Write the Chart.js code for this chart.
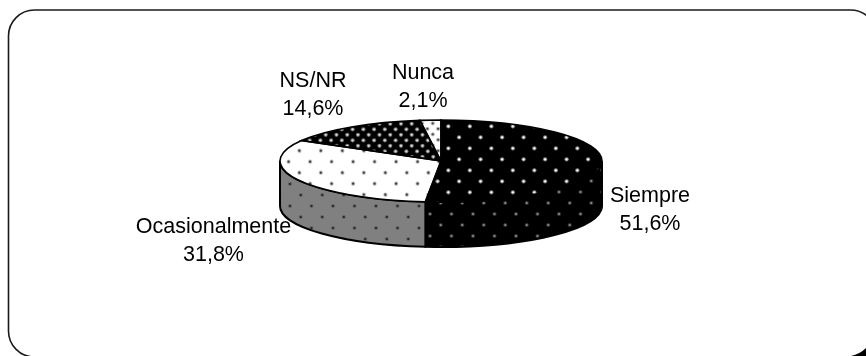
<!DOCTYPE html>
<html>
<head>
<meta charset="utf-8">
<title>Frecuencia</title>
<script src="https://cdn.jsdelivr.net/npm/chart.js@4"></script>
<style>
  html, body { margin: 0; padding: 0; background: #fff; overflow: hidden; }
  canvas { display: block; }
</style>
</head>
<body>
<canvas id="chartFrecuencia" width="866" height="356"></canvas>
<script>
const categories = ["Siempre", "Ocasionalmente", "NS/NR", "Nunca"];
const percentages = [51.6, 31.8, 14.6, 2.1];

// Pie geometry: the disc is squashed vertically and sits on a wall
const centerX = 441;
const centerY = 161;
const radiusX = 161;
const radiusY = 41;
const wallDepth = 45;
const squash = radiusY / radiusX;

// Label centre and first baseline for each category
const labelSpots = [
  [650, 202],
  [213.5, 233],
  [313, 87],
  [423, 79],
];
const lineGap = 28;

// Tile of staggered dots, phase is the position of one dot on the page
function dotTile(bg, core, halo, spacing, phaseX, phaseY) {
  const row = spacing / 2 + 0.1;
  const tile = document.createElement("canvas");
  tile.width = 43;
  tile.height = Math.round(row * 2);
  const c = tile.getContext("2d");
  c.fillStyle = bg;
  c.fillRect(0, 0, tile.width, tile.height);
  const stepX = tile.width / Math.round(tile.width / spacing);
  const stepY = tile.height / 2;
  const dot = (x, y) => {
    c.fillStyle = halo;
    c.beginPath();
    c.arc(x, y, 2.1, 0, Math.PI * 2);
    c.fill();
    c.fillStyle = core;
    c.beginPath();
    c.arc(x, y, 1.1, 0, Math.PI * 2);
    c.fill();
  };
  const x0 = phaseX % stepX;
  const y0 = phaseY % tile.height;
  for (let r = -2; r <= 4; r++) {
    for (let col = -1; col <= tile.width / stepX + 1; col++) {
      dot(x0 + col * stepX + (r % 2 ? stepX / 2 : 0), y0 + r * stepY);
    }
  }
  return c.createPattern(tile, "repeat");
}

// Top patterns are filled under the squash, so undo it to keep the dots round
function topPattern(pattern) {
  pattern.setTransform(
    new DOMMatrix().translate(0, centerY).scale(1, 1 / squash).translate(0, -centerY)
  );
  return pattern;
}

const topFills = [
  topPattern(dotTile("#000", "#fff", "#8a8a8a", 21.5, 448.3, 126.3)),
  topPattern(dotTile("#fff", "#333", "#bbb", 21.5, 299.3, 150.7)),
  topPattern(dotTile("#000", "#ddd", "#777", 10.75, 363.3, 129.3)),
  topPattern(dotTile("#fff", "#444", "#bbb", 10.75, 432.7, 123.3)),
];
const wallFills = [
  dotTile("#000", "#8c8c8c", "#333", 21.5, 430, 214),
  dotTile("#808080", "#222", "#666", 21.5, 290, 184),
  "#000",
  "#808080",
];

const framePlugin = {
  id: "frame",
  beforeDraw(chart) {
    const ctx = chart.ctx;
    ctx.save();
    ctx.fillStyle = "#fff";
    ctx.fillRect(0, 0, chart.width, chart.height);
    ctx.strokeStyle = "#1a1a1a";
    ctx.lineWidth = 1.6;
    ctx.beginPath();
    ctx.roundRect(8.5, 10, 868, 347, 26);
    ctx.stroke();
    // dark corner showing behind the frame
    ctx.fillStyle = "#000";
    ctx.beginPath();
    ctx.moveTo(851, 356);
    ctx.quadraticCurveTo(860, 354, 866, 348);
    ctx.lineTo(866, 356);
    ctx.closePath();
    ctx.fill();
    ctx.restore();
  },
};

const piePlugin = {
  id: "tiltedPie",
  beforeDatasetsDraw(chart) {
    const ctx = chart.ctx;
    const arcs = chart.getDatasetMeta(0).data;
    ctx.save();
    ctx.strokeStyle = "#000";
    ctx.lineWidth = 2;
    arcs.forEach((arc, i) => {
      const from = Math.max(arc.startAngle, 0);
      const to = Math.min(arc.endAngle, Math.PI);
      if (to <= from) return;
      ctx.beginPath();
      ctx.ellipse(arc.x, arc.y, arc.outerRadius, radiusY, 0, from, to);
      ctx.ellipse(arc.x, arc.y + wallDepth, arc.outerRadius, radiusY, 0, to, from, true);
      ctx.closePath();
      ctx.fillStyle = wallFills[i];
      ctx.fill();
      ctx.stroke();
    });
    ctx.restore();
    ctx.save();
    ctx.translate(0, centerY);
    ctx.scale(1, squash);
    ctx.translate(0, -centerY);
  },
  afterDatasetsDraw(chart) {
    const ctx = chart.ctx;
    ctx.restore();
    const arcs = chart.getDatasetMeta(0).data;
    ctx.save();
    ctx.strokeStyle = "#000";
    ctx.lineWidth = 1.6;
    arcs.forEach((arc) => {
      ctx.beginPath();
      ctx.moveTo(arc.x, arc.y);
      ctx.ellipse(arc.x, arc.y, arc.outerRadius, radiusY, 0, arc.startAngle, arc.endAngle);
      ctx.closePath();
      ctx.stroke();
    });
    ctx.fillStyle = "#000";
    ctx.font = '21.5px "Liberation Sans"';
    ctx.textAlign = "center";
    ctx.textBaseline = "alphabetic";
    categories.forEach((name, i) => {
      const [x, y] = labelSpots[i];
      ctx.fillText(name, x, y);
      ctx.fillText(percentages[i].toFixed(1).replace(".", ",") + "%", x, y + lineGap);
    });
    ctx.restore();
  },
};

new Chart(document.getElementById("chartFrecuencia"), {
  type: "pie",
  data: {
    labels: categories,
    datasets: [
      {
        data: percentages,
        backgroundColor: topFills,
        borderWidth: 0,
        clip: false,
      },
    ],
  },
  options: {
    responsive: false,
    animation: false,
    radius: radiusX,
    layout: {
      padding: { left: 2 * centerX - 866, bottom: 356 - 2 * centerY },
    },
    plugins: {
      legend: { display: false },
      tooltip: { enabled: false },
    },
    events: [],
  },
  plugins: [framePlugin, piePlugin],
});
</script>
</body>
</html>
